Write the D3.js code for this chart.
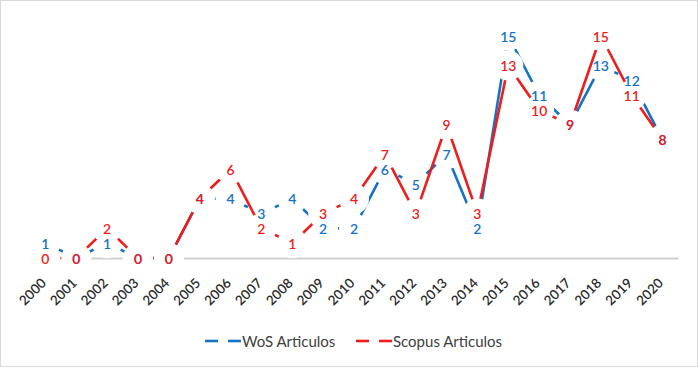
<!DOCTYPE html>
<html><head><meta charset="utf-8">
<script src="https://cdn.jsdelivr.net/npm/d3@7"></script>
<style>body{margin:0;background:#fff}svg{display:block}</style>
</head><body>
<svg id="c" width="698" height="367"></svg>
<script>
const years = ["2000","2001","2002","2003","2004","2005","2006","2007","2008","2009","2010","2011","2012","2013","2014","2015","2016","2017","2018","2019","2020"];
const wos =    [1,0,1,0,0,4,4,3,4,2,2,6,5,7,2,15,11,9,13,12,8];
const scopus = [0,0,2,0,0,4,6,2,1,3,4,7,3,9,3,13,10,9,15,11,8];
const seriesNames = ["WoS Articulos","Scopus Articulos"];
const colors = ["#1473C4","#EE1C1C"];

const svg = d3.select("#c");
const W = 698, H = 367;
svg.append("rect").attr("x",0.5).attr("y",0.5).attr("width",W-1).attr("height",H-1)
  .attr("fill","#fff").attr("stroke","#D9D9D9");

const x = d3.scaleBand().domain(years).range([30,678]);
const y = d3.scaleLinear().domain([0,15]).range([258,36]);
const cx = d => x(d) + x.bandwidth()/2;

// axis line (under series)
const ax = svg.append("g").attr("transform","translate(0,258)")
  .call(d3.axisBottom(x).tickSize(0).tickPadding(0));
ax.select(".domain").attr("stroke","#D0D0D0").attr("stroke-width",2);
ax.selectAll(".tick").remove();

const data = [wos, scopus];
const line = d3.line().x((d,i)=>cx(years[i])).y(d=>y(d));
data.forEach((vals,k)=>{
  svg.append("path").datum(vals).attr("d",line).attr("fill","none")
    .attr("stroke",colors[k]).attr("stroke-width",2.6).attr("stroke-linejoin","round");
  svg.append("g").selectAll("circle").data(vals).join("circle")
    .attr("cx",(d,i)=>cx(years[i])).attr("cy",d=>y(d)).attr("r",15).attr("fill","#fff");
});
data.forEach((vals,k)=>{
  svg.append("g").selectAll("text").data(vals).join("text")
    .attr("x",(d,i)=>cx(years[i])).attr("y",d=>y(d))
    .attr("text-anchor","middle").attr("dominant-baseline","central")
    .attr("font-family","Lato, 'Open Sans', sans-serif").attr("font-size",14)
    .attr("font-weight",600).attr("fill",colors[k]).text(d=>d);
});

// category tick labels (on top)
const ax2 = svg.append("g").attr("transform","translate(0,258)")
  .call(d3.axisBottom(x).tickSize(0).tickPadding(0));
ax2.select(".domain").remove();
ax2.selectAll("text")
  .attr("font-family","Lato, 'Open Sans', sans-serif").attr("font-size",13.5)
  .attr("font-weight",600)
  .attr("fill","#2b2b2b").attr("text-anchor","end")
  .attr("dy",null).attr("y",0)
  .attr("transform","translate(-2,22.5) rotate(-45)")
  .attr("dominant-baseline","central");

// legend
const legX = [205, 356];
seriesNames.forEach((n,k)=>{
  const g = svg.append("g").attr("transform",`translate(${legX[k]},341)`);
  g.append("line").attr("x1",0).attr("x2",13).attr("y1",0).attr("y2",0)
    .attr("stroke",colors[k]).attr("stroke-width",2.6);
  g.append("line").attr("x1",23).attr("x2",36).attr("y1",0).attr("y2",0)
    .attr("stroke",colors[k]).attr("stroke-width",2.6);
  g.append("text").attr("x",37).attr("y",0).attr("dominant-baseline","central")
    .attr("font-family","Lato, 'Open Sans', sans-serif").attr("font-size",15)
    .attr("fill","#404040").text(n);
});
</script>
</body></html>
